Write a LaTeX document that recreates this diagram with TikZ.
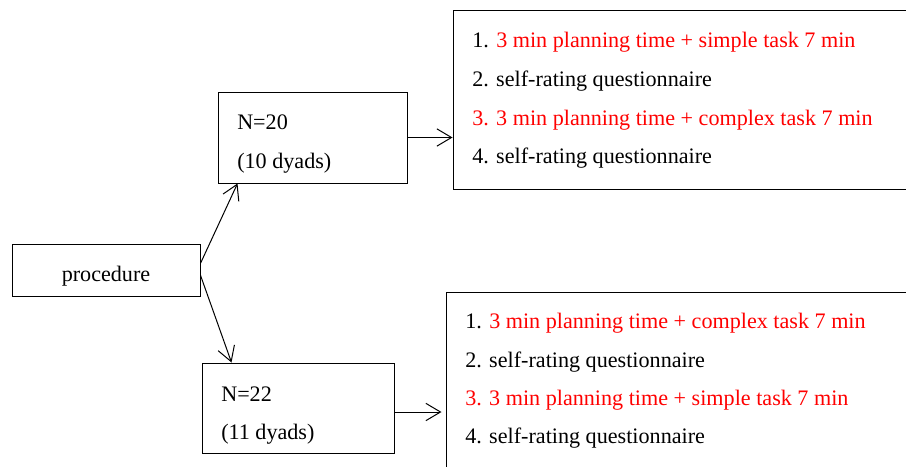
\documentclass[tikz,border=0pt]{standalone}
\usepackage{fontspec}
\setmainfont{Liberation Serif}
\usetikzlibrary{arrows.meta,fit}
\definecolor{txtred}{RGB}{255,0,0}
\begin{document}
\begin{tikzpicture}[x=0.75pt,y=-0.75pt,
  box/.style={draw=black, line width=0.75pt, inner sep=0pt},
  lbl/.style={anchor=base west, inner sep=0pt, font=\fontsize{16.6}{20}\selectfont},
  clbl/.style={anchor=base, inner sep=0pt, font=\fontsize{16.6}{20}\selectfont},
  red/.style={text=txtred},
  arr/.style={draw=black, line width=0.75pt, -{Straight Barb[length=11pt,width=13pt]}}]
\useasboundingbox (0,0) rectangle (906,467);
\clip (0,0) rectangle (906,467);
\fill[white] (0,0) rectangle (906,467);

% boxes
\node[box, fit={(12,244) (200,296)}] (proc) {};
\node[box, fit={(218,92) (407,183)}] (n20) {};
\node[box, fit={(202,363) (394,453)}] (n22) {};
\node[box, fit={(453,11) (912,189)}] (top) {};
\node[box, fit={(446,292) (912,482)}] (bot) {};

% texts
\node[clbl] (tproc) at (106,281) {procedure};
\node[lbl] (t20a) at (237,129) {N=20};
\node[lbl] (t20b) at (237,168) {(10 dyads)};
\node[lbl] (t22a) at (221,401) {N=22};
\node[lbl] (t22b) at (221,439) {(11 dyads)};

\node[lbl] (a1) at (472,48) {1. \textcolor{txtred}{3 min planning time + simple task 7 min}};
\node[lbl] (a2) at (472,87) {2. self-rating questionnaire};
\node[lbl, red] (a3) at (472,125) {3. 3 min planning time + complex task 7 min};
\node[lbl] (a4) at (472,163) {4. self-rating questionnaire};

\node[lbl] (b1) at (465,328) {1. \textcolor{txtred}{3 min planning time + complex task 7 min}};
\node[lbl] (b2) at (465,367) {2. self-rating questionnaire};
\node[lbl, red] (b3) at (465,405) {3. 3 min planning time + simple task 7 min};
\node[lbl] (b4) at (465,443) {4. self-rating questionnaire};

% connectors
\draw[arr] ([yshift=5pt]proc.east) -- ([xshift=15pt]n20.south west);
\draw[arr] ([yshift=-4pt]proc.east) -- ([xshift=22.5pt]n22.north west);
\draw[arr] (n20.east) -- (top.west |- n20.east);
\draw[arr] ([yshift=-3pt]n22.east) -- ([xshift=-3pt,yshift=-3pt]bot.west |- n22.east);
\end{tikzpicture}
\end{document}
